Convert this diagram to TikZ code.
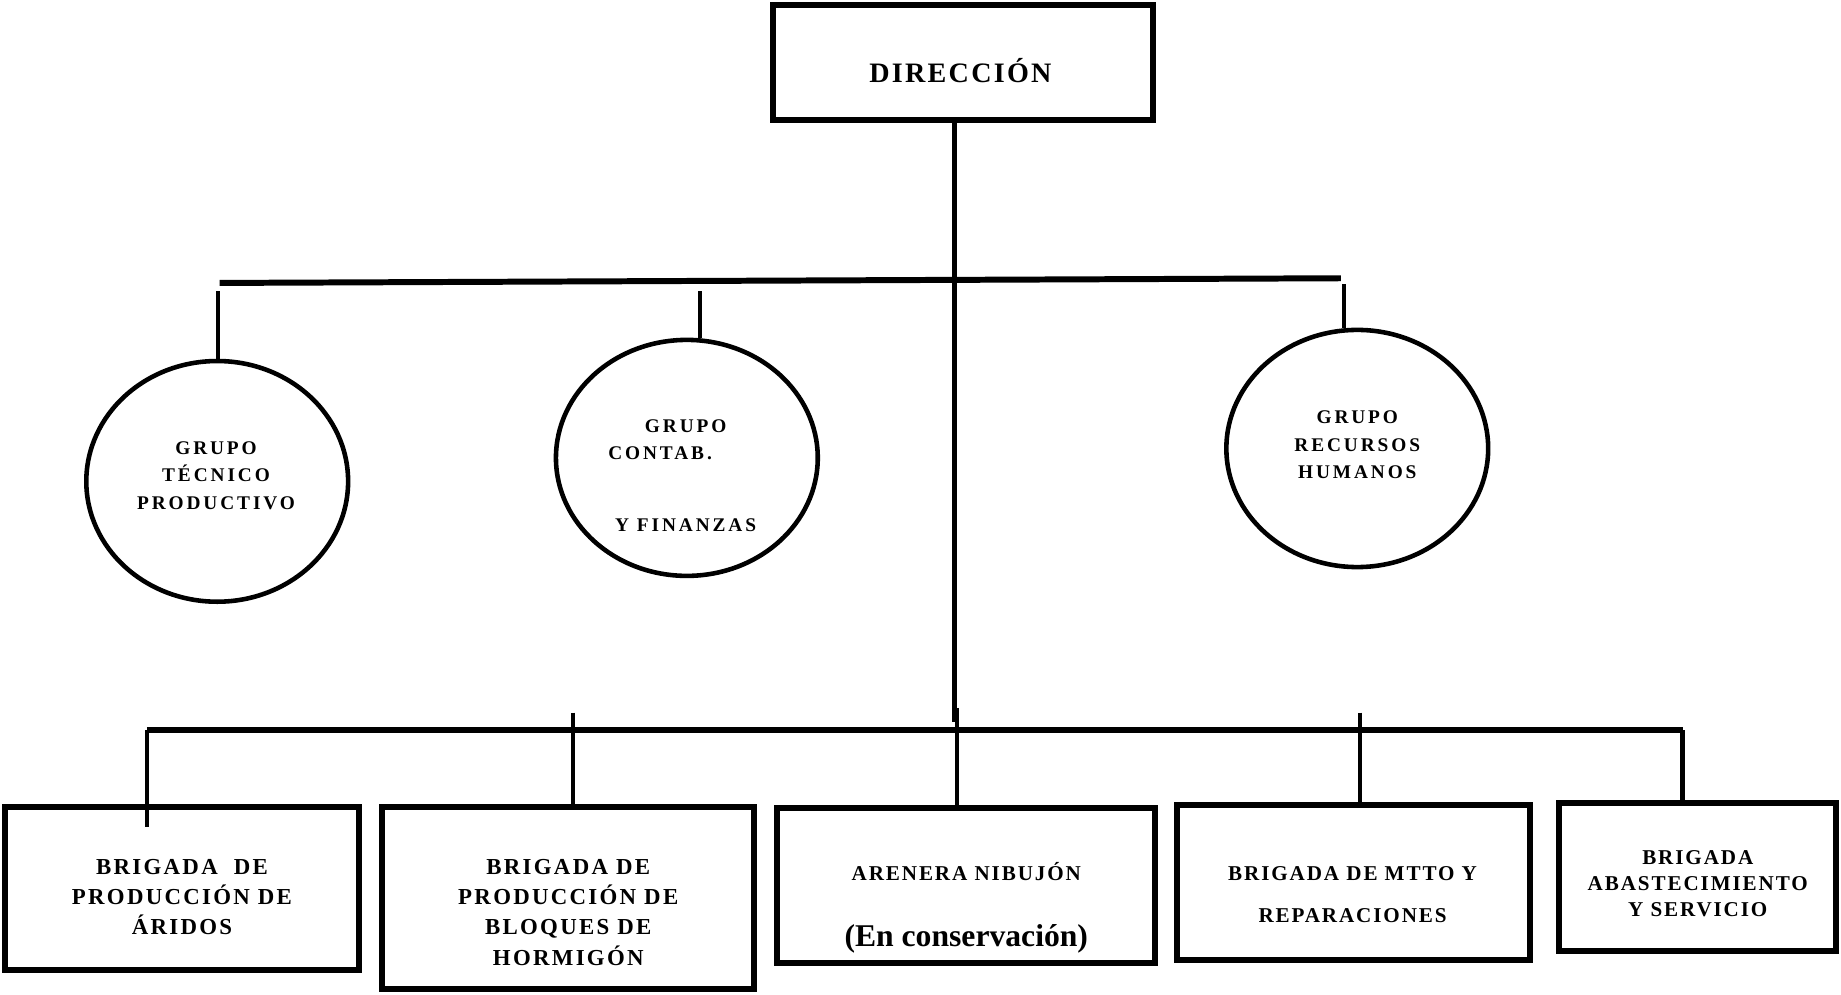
\documentclass[tikz,border=0pt]{standalone}
\usepackage{fontspec}
\setmainfont{Liberation Serif}
\newfontfamily\orgdir[LetterSpace=8]{Liberation Serif}
\newfontfamily\orggrp[LetterSpace=15]{Liberation Serif}
\newfontfamily\orgbrg[LetterSpace=10]{Liberation Serif}
\newfontfamily\orgbrs[LetterSpace=9]{Liberation Serif}
\usetikzlibrary{shapes.geometric}
\def\pxu{0.01174cm}

\begin{document}
\begin{tikzpicture}[x=\pxu, y=-\pxu]
 \tikzset{
  unit/.style={rectangle, draw, line width=1.7pt, inner sep=0pt},
  grp/.style={ellipse, draw, line width=1.3pt, inner sep=0pt},
  txt/.style={align=center, inner sep=0pt},
  gfont/.style={font=\orggrp\bfseries\fontsize{5.5}{7.8}\selectfont},
  bfont/.style={font=\orgbrg\bfseries\fontsize{6.5}{8.6}\selectfont},
  sfont/.style={font=\orgbrs\bfseries\fontsize{6}{7.4}\selectfont},
  link/.style={line width=1.2pt},
  bus/.style={line width=1.7pt}
 }
 \useasboundingbox (0,0) rectangle (1568,847);

 % boxes and ellipses
 \node [unit, minimum width=324*\pxu, minimum height=98*\pxu] (dir) at (820,53) {};
 \foreach \nm/\x/\y/\h in {gtp/185/410/205, gcf/585/390/201, grh/1156/382/202}
  { \node [grp, minimum width=223*\pxu, minimum height=\h*\pxu] (\nm) at (\x,\y) {}; }
 \foreach \nm/\x/\y/\w/\h in {bar/155/757/302/139, bbl/484/765/317/155, are/823/754/322/132,
                               bmr/1153/752/301/132, bas/1446/747/236/126}
  { \node [unit, minimum width=\w*\pxu, minimum height=\h*\pxu] (\nm) at (\x,\y) {}; }

 % texts
 \node [txt, font=\orgdir\bfseries\fontsize{8}{10}\selectfont] (dir-t) at (818,60) {DIRECCIÓN};
 \node [txt, gfont] (gtp-t) at (184,405) {GRUPO\\TÉCNICO\\PRODUCTIVO};
 \node [txt, gfont] (gcf-t) at (584,405) {GRUPO\\\makebox[44pt][l]{CONTAB.}\\[12.6pt]Y FINANZAS};
 \node [txt, gfont] (grh-t) at (1156,379) {GRUPO\\RECURSOS\\HUMANOS};
 \node [txt, bfont] (bar-t) at (155,764) {BRIGADA\ \ DE\\PRODUCCIÓN DE\\ÁRIDOS};
 \node [txt, bfont] (bbl-t) at (484,777) {BRIGADA DE\\PRODUCCIÓN DE\\BLOQUES DE\\HORMIGÓN};
 \node [txt, sfont] (are-t) at (823,773) {ARENERA NIBUJÓN\\[11.3pt]{\rmfamily\bfseries\fontsize{9}{11}\selectfont (En conservación)}};
 \node [txt, sfont] (bmr-t) at (1152,762) {BRIGADA DE MTTO Y\\[4.3pt]REPARACIONES};
 \node [txt, sfont] (bas-t) at (1446,753) {BRIGADA\\ABASTECIMIENTO\\Y SERVICIO};

 % connectors
 \coordinate (upL) at (187,241);
 \coordinate (upR) at (1142,237);
 \coordinate (tk) at (813,615);
 \coordinate (dnL) at (125,622);
 \coordinate (dnR) at (1433,622);
 \coordinate (gtp-up) at (186,248);
 \coordinate (gcf-up) at (596,248);
 \coordinate (grh-up) at (1145,242);
 \coordinate (bar-dn) at (125,704);
 \coordinate (bbl-up) at (488,607);
 \coordinate (are-up) at (815,603);
 \coordinate (bmr-up) at (1158,607);

 \draw [bus] (upL) -- (upR);
 \draw [bus] (dnL) -- (dnR);
 \draw [link] (tk |- dir.south) -- (tk);
 \foreach \nm in {gtp, gcf, grh} { \draw [link] (\nm-up) -- (\nm-up |- \nm.north); }
 \draw [link] (dnL) -- (bar-dn);
 \foreach \nm in {bbl, are, bmr} { \draw [link] (\nm-up) -- (\nm-up |- \nm.north); }
 \draw [link] (dnR) -- (dnR |- bas.north);
\end{tikzpicture}
\end{document}
